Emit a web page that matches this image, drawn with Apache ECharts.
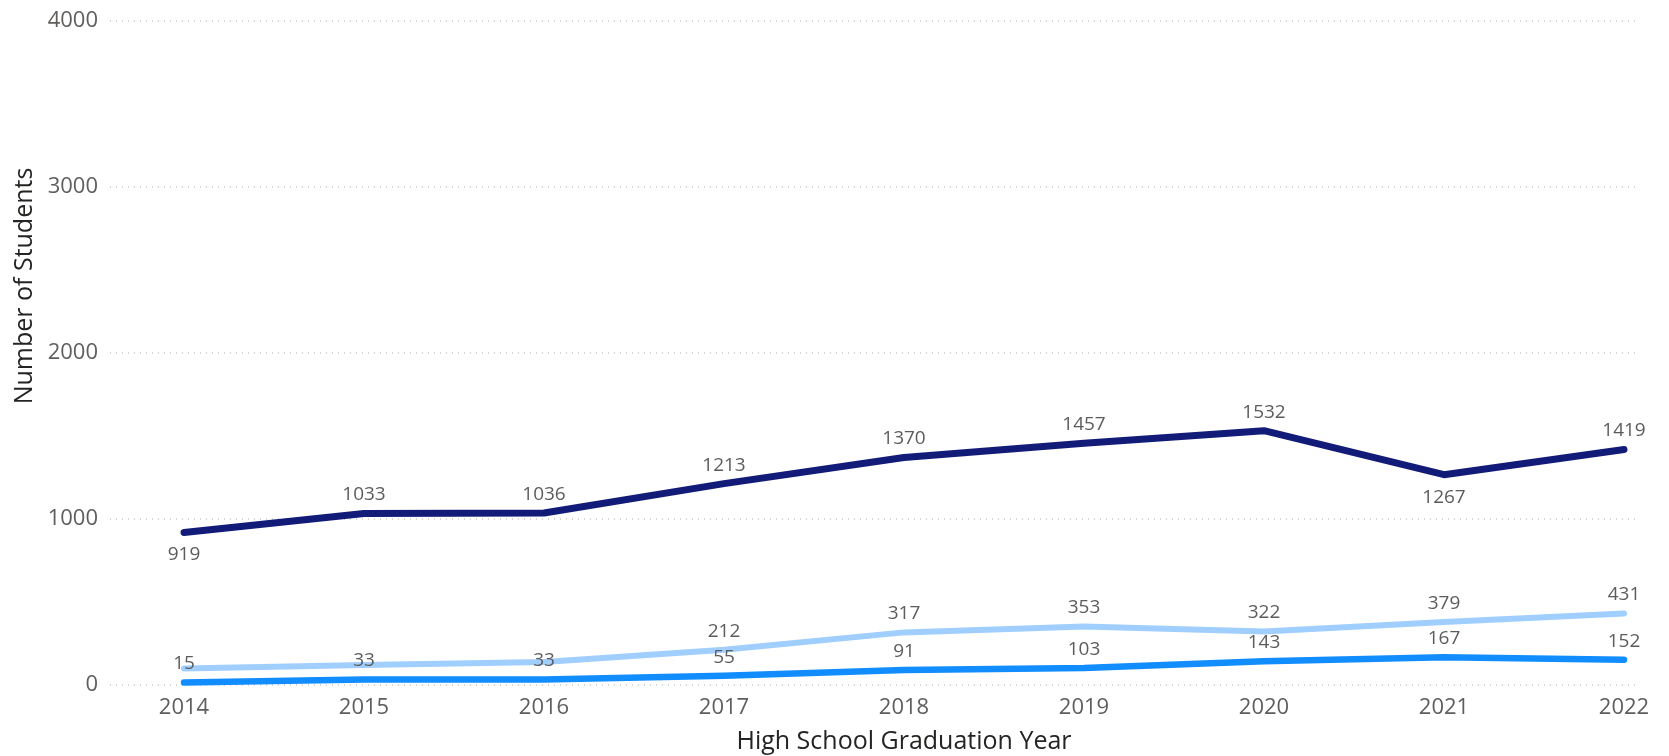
<!DOCTYPE html>
<html>
<head>
<meta charset="utf-8">
<script src="https://cdn.jsdelivr.net/npm/echarts@6/dist/echarts.min.js"></script>
<style>
  html, body { margin: 0; padding: 0; background: #fff; }
  #main { width: 1669px; height: 756px; }
</style>
</head>
<body>
<div id="main"></div>
<script>
// graduation years on the x axis
const years = ['2014', '2015', '2016', '2017', '2018', '2019', '2020', '2021', '2022'];
// top (navy) line
const navyVals = [919, 1033, 1036, 1213, 1370, 1457, 1532, 1267, 1419];
// middle (light blue) line, first three (labels hidden there)
const lightVals = [100, 121, 139, 212, 317, 353, 322, 379, 431];
// bottom (bright blue) line
const brightVals = [15, 33, 33, 55, 91, 103, 143, 167, 152];
// y ticks
const yTicks = [0, 1000, 2000, 3000, 4000];

// which labels sit under the line / are dropped
const navyBelow = [0, 7];
const lightHidden = [0, 1, 2];

const labelStyle = {
  show: true,
  position: 'top',
  distance: 8,
  color: '#5c5c5c',
  fontFamily: 'Open Sans',
  fontSize: 19
};

const chart = echarts.init(document.getElementById('main'));

const navyData = navyVals.map((v, i) => navyBelow.indexOf(i) >= 0
  ? { value: v, label: { position: 'bottom', distance: 12 } }
  : v);
const lightData = lightVals.map((v, i) => lightHidden.indexOf(i) >= 0
  ? { value: v, label: { show: false } }
  : v);

function lineSeries(name, data, color, width) {
  return {
    name: name,
    type: 'line',
    xAxisIndex: 1,
    yAxisIndex: 1,
    data: data,
    symbol: 'circle',
    symbolSize: 2,
    showSymbol: true,
    labelLayout: { hideOverlap: false },
    lineStyle: { color: color, width: width, cap: 'round', join: 'round' },
    itemStyle: { color: color },
    label: labelStyle
  };
}

const option = {
  animation: false,
  backgroundColor: '#ffffff',
  grid: [
    // background grid with the dotted lines
    { left: 110, right: 29, top: 21, bottom: 71, outerBoundsMode: 'none', containLabel: false },
    // plotting grid
    { left: 184, right: 45, top: 21, bottom: 71, outerBoundsMode: 'none', containLabel: false }
  ],
  xAxis: [
    { type: 'category', gridIndex: 0, data: years, show: false },
    {
      type: 'category',
      gridIndex: 1,
      data: years,
      boundaryGap: false,
      axisLine: { show: false },
      axisTick: { show: false },
      axisLabel: {
        color: '#605e5c',
        fontFamily: 'Open Sans',
        fontSize: 22,
        margin: 12
      },
      name: 'High School Graduation Year',
      nameLocation: 'middle',
      nameGap: 44,
      nameTextStyle: {
        color: '#252423',
        fontFamily: 'Open Sans',
        fontSize: 25
      }
    }
  ],
  yAxis: [
    {
      type: 'value',
      gridIndex: 0,
      min: yTicks[0],
      max: yTicks[yTicks.length - 1],
      interval: 1000,
      axisLine: { show: false },
      axisTick: { show: false },
      axisLabel: {
        color: '#605e5c',
        fontFamily: 'Open Sans',
        fontSize: 22,
        margin: 12,
        formatter: (v) => String(v)
      },
      splitLine: {
        lineStyle: { color: '#c8c6c4', type: [1, 5], width: 1.5 }
      }
    },
    {
      type: 'value',
      gridIndex: 1,
      min: yTicks[0],
      max: yTicks[yTicks.length - 1],
      interval: 1000,
      show: false,
      splitLine: { show: false }
    }
  ],
  graphic: [
    {
      type: 'text',
      x: 25,
      y: 286,
      rotation: Math.PI / 2,
      style: {
        text: 'Number of Students',
        fill: '#252423',
        font: '25px "Open Sans"',
        textAlign: 'center',
        textVerticalAlign: 'middle'
      }
    }
  ],
  series: [
    lineSeries('navy', navyData, '#121c78', 7),
    lineSeries('light', lightData, '#a0cfff', 6),
    lineSeries('bright', brightVals, '#118dff', 6.5)
  ]
};

chart.setOption(option);
</script>
</body>
</html>
